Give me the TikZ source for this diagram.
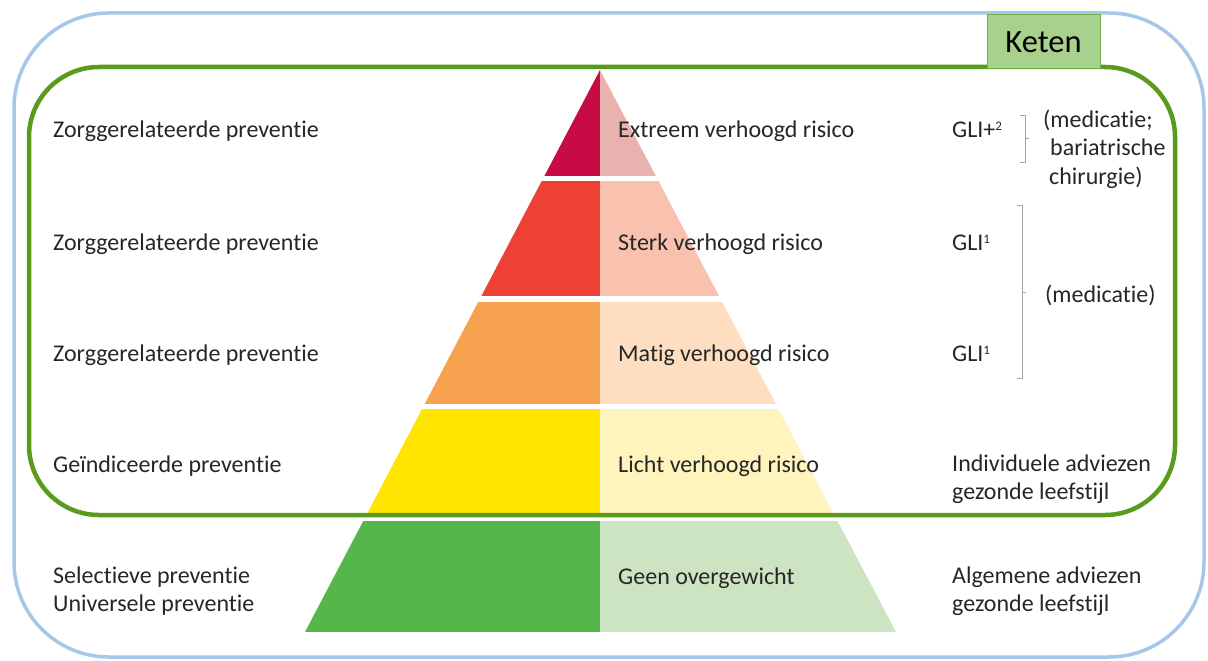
\documentclass[tikz,border=0pt]{standalone}
\usepackage{fontspec}
\setmainfont{Carlito}[Ligatures=NoCommon]
\definecolor{txtgray}{HTML}{262626}
\definecolor{brkgray}{HTML}{A6A6A6}
\definecolor{outerblue}{HTML}{A5C7E9}
\definecolor{ketengreen}{HTML}{5A9A1C}
\definecolor{ketenfill}{HTML}{A9D18E}
\definecolor{ketenline}{HTML}{70AD47}
\definecolor{extremeL}{HTML}{C70C45}
\definecolor{extremeR}{HTML}{EAB2AF}
\definecolor{sterkL}{HTML}{EE4136}
\definecolor{sterkR}{HTML}{F9C2AE}
\definecolor{matigL}{HTML}{F7A24F}
\definecolor{matigR}{HTML}{FDDEC0}
\definecolor{lichtL}{HTML}{FFE500}
\definecolor{lichtR}{HTML}{FFF4BD}
\definecolor{geenL}{HTML}{55B649}
\definecolor{geenR}{HTML}{CDE4C3}
\newcommand{\supnr}[1]{\raisebox{6.5pt}{\fontsize{13}{13}\selectfont #1}}
\begin{document}
\begin{tikzpicture}[x=1pt,y=-1pt,
	txt/.style={anchor=base west,inner sep=0pt,text=txtgray,font=\fontsize{24}{28.5}\selectfont},
	txtml/.style={txt,anchor=west,align=left},
	brk/.style={draw=brkgray,line width=1pt}]
	\useasboundingbox (0,0) rectangle (1208,661);
	% pyramid, cut out of one triangle
	\begin{scope}
		\clip (600,70) -- (896,632) -- (305,632) -- cycle;
		\fill[extremeL] (300,60) rectangle (600,176); \fill[extremeR] (600,60) rectangle (900,176);
		\fill[sterkL] (300,181) rectangle (600,296); \fill[sterkR] (600,181) rectangle (900,296);
		\fill[matigL] (300,302) rectangle (600,404); \fill[matigR] (600,302) rectangle (900,404);
		\fill[lichtL] (300,409) rectangle (600,516); \fill[lichtR] (600,409) rectangle (900,516);
		\fill[geenL] (300,521) rectangle (600,632); \fill[geenR] (600,521) rectangle (900,632);
	\end{scope}
	% frames
	\draw[outerblue,line width=3.5pt,rounded corners=95pt] (14,13) rectangle (1204,657);
	\draw[ketengreen,line width=4.5pt,rounded corners=70pt] (29,67) rectangle (1175,515);
	\node[draw=ketenline,fill=ketenfill,line width=1pt,minimum width=113pt,minimum height=54pt,
		inner sep=0pt,font=\fontsize{32.5}{36}\selectfont,text=black] (keten) at (1043.5,42) {Keten};
	% left column
	\node[txt] (prevA) at (53,137) {Zorggerelateerde preventie};
	\node[txt] (prevB) at (53,250) {Zorggerelateerde preventie};
	\node[txt] (prevC) at (53,361) {Zorggerelateerde preventie};
	\node[txt] (prevD) at (53,472) {Geïndiceerde preventie};
	\node[txtml] (prevE) at (53,591) {Selectieve preventie\\Universele preventie};
	% middle column
	\node[txt] (riskA) at (618,137) {Extreem verhoogd risico};
	\node[txt] (riskB) at (618,250) {Sterk verhoogd risico};
	\node[txt] (riskC) at (618,361) {Matig verhoogd risico};
	\node[txt] (riskD) at (618,472) {Licht verhoogd risico};
	\node[txt] (riskE) at (618,584) {Geen overgewicht};
	% right column
	\node[txt] (gliA) at (952,137) {GLI+\supnr{2}};
	\node[txt] (gliB) at (952,250) {GLI\supnr{1}};
	\node[txt] (gliC) at (952,361) {GLI\supnr{1}};
	\node[txtml] (advD) at (952,479) {Individuele adviezen\\gezonde leefstijl};
	\node[txtml] (advE) at (952,591) {Algemene adviezen\\gezonde leefstijl};
	\node[txtml] (medA) at (1043,149) {(medicatie;\\\hspace{7pt}bariatrische\\\hspace{6pt}chirurgie)};
	\node[txt] (medB) at (1045,302) {(medicatie)};
	% brackets
	\draw[brk] (1020,115) -- (1025,115) -- (1025,162) -- (1020,162);
	\draw[brk] (1025,138) -- (1029,138);
	\draw[brk] (1017,205) -- (1022,205) -- (1022,378) -- (1017,378);
	\draw[brk] (1022,292) -- (1026,292);
\end{tikzpicture}
\end{document}
